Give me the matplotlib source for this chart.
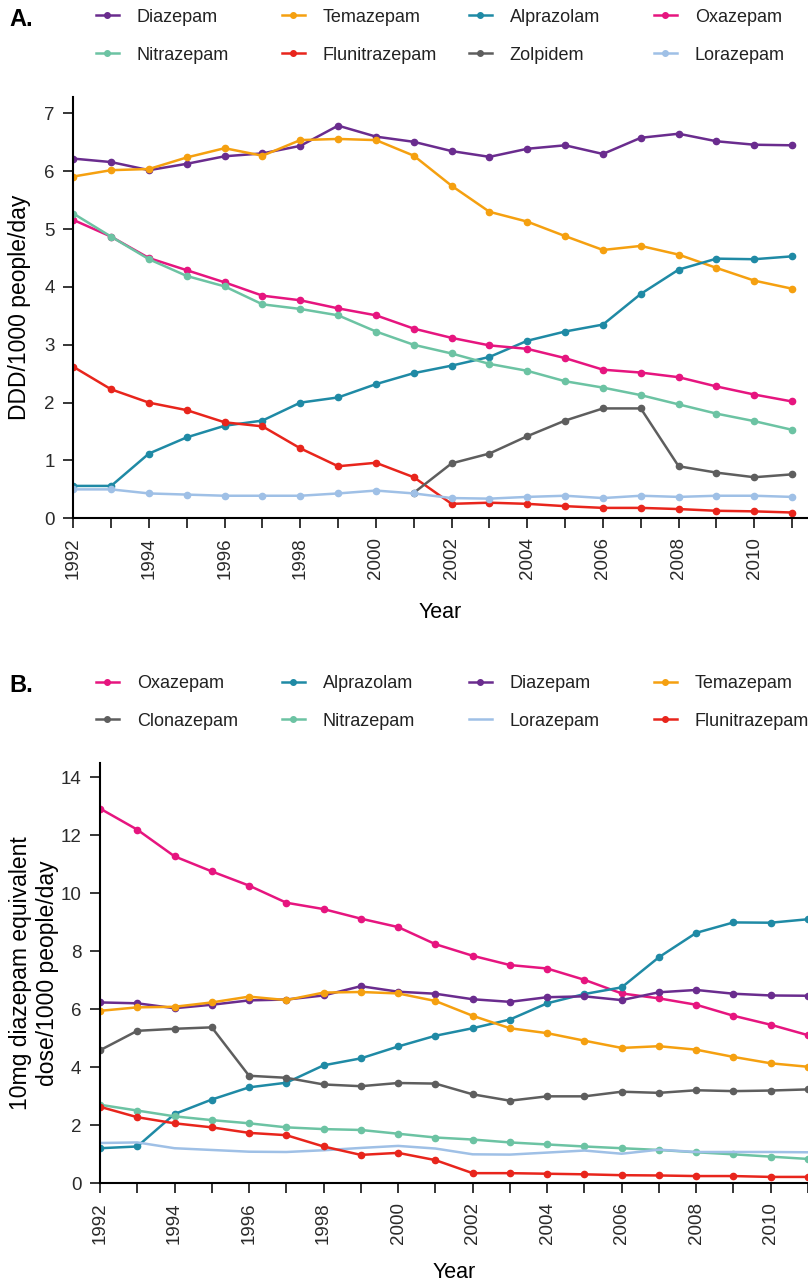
import numpy as np
import matplotlib
matplotlib.use('Agg')
import matplotlib.pyplot as plt
from matplotlib.lines import Line2D

plt.rcParams['font.family'] = ['Liberation Sans', 'DejaVu Sans']

years = list(range(1992, 2012))
nan = np.nan

# panel A: DDD/1000 people/day
a_diazepam = [6.22, 6.16, 6.02, 6.13, 6.26, 6.31, 6.44, 6.79, 6.60, 6.51, 6.35, 6.25, 6.39, 6.45, 6.30, 6.58, 6.65, 6.52, 6.46, 6.45]
a_temazepam = [5.91, 6.02, 6.04, 6.24, 6.40, 6.27, 6.54, 6.56, 6.54, 6.27, 5.75, 5.30, 5.13, 4.88, 4.64, 4.71, 4.56, 4.33, 4.11, 3.97]
a_alprazolam = [0.56, 0.56, 1.12, 1.40, 1.60, 1.69, 2.00, 2.09, 2.32, 2.51, 2.64, 2.79, 3.07, 3.23, 3.35, 3.88, 4.30, 4.49, 4.48, 4.53]
a_oxazepam = [5.16, 4.87, 4.50, 4.29, 4.08, 3.85, 3.77, 3.63, 3.51, 3.28, 3.12, 2.99, 2.93, 2.77, 2.57, 2.52, 2.44, 2.28, 2.14, 2.02]
a_nitrazepam = [5.27, 4.87, 4.48, 4.19, 4.01, 3.70, 3.62, 3.51, 3.23, 3.00, 2.85, 2.67, 2.55, 2.37, 2.26, 2.13, 1.97, 1.81, 1.68, 1.53]
a_flunitrazepam = [2.62, 2.23, 2.00, 1.87, 1.66, 1.59, 1.21, 0.90, 0.96, 0.71, 0.25, 0.27, 0.25, 0.21, 0.18, 0.18, 0.16, 0.13, 0.12, 0.10]
a_zolpidem = [nan, nan, nan, nan, nan, nan, nan, nan, nan, 0.44, 0.95, 1.12, 1.42, 1.69, 1.90, 1.90, 0.90, 0.79, 0.71, 0.76]
a_lorazepam = [0.50, 0.50, 0.43, 0.41, 0.39, 0.39, 0.39, 0.43, 0.48, 0.43, 0.35, 0.34, 0.37, 0.39, 0.35, 0.39, 0.37, 0.39, 0.39, 0.37]

# panel B: 10mg diazepam equivalent dose/1000 people/day
b_oxazepam = [12.93, 12.20, 11.28, 10.76, 10.27, 9.68, 9.46, 9.13, 8.84, 8.25, 7.85, 7.53, 7.41, 7.02, 6.55, 6.38, 6.16, 5.78, 5.47, 5.11]
b_alprazolam = [1.21, 1.27, 2.39, 2.89, 3.31, 3.47, 4.07, 4.31, 4.72, 5.09, 5.35, 5.65, 6.21, 6.53, 6.76, 7.80, 8.64, 9.00, 8.99, 9.11]
b_diazepam = [6.24, 6.21, 6.04, 6.16, 6.31, 6.34, 6.48, 6.80, 6.61, 6.54, 6.35, 6.26, 6.42, 6.45, 6.32, 6.59, 6.67, 6.54, 6.48, 6.47]
b_temazepam = [5.95, 6.07, 6.09, 6.24, 6.44, 6.32, 6.58, 6.60, 6.55, 6.29, 5.78, 5.35, 5.18, 4.92, 4.67, 4.73, 4.61, 4.36, 4.14, 4.02]
b_clonazepam = [4.59, 5.26, 5.33, 5.38, 3.71, 3.64, 3.41, 3.35, 3.46, 3.44, 3.07, 2.85, 3.00, 3.00, 3.16, 3.12, 3.21, 3.18, 3.20, 3.24]
b_nitrazepam = [2.71, 2.51, 2.31, 2.18, 2.07, 1.93, 1.87, 1.84, 1.71, 1.58, 1.51, 1.41, 1.34, 1.27, 1.21, 1.15, 1.07, 1.00, 0.92, 0.84]
b_lorazepam = [1.39, 1.41, 1.21, 1.15, 1.09, 1.08, 1.14, 1.22, 1.29, 1.20, 1.00, 0.99, 1.06, 1.13, 1.02, 1.16, 1.08, 1.08, 1.08, 1.07]
b_flunitrazepam = [2.64, 2.28, 2.07, 1.93, 1.74, 1.66, 1.27, 0.98, 1.05, 0.80, 0.35, 0.35, 0.33, 0.31, 0.28, 0.27, 0.25, 0.25, 0.22, 0.22]

colors = {
    'Diazepam': '#6a2c8e',
    'Temazepam': '#f5a010',
    'Alprazolam': '#1f8aa5',
    'Oxazepam': '#e6157f',
    'Nitrazepam': '#6cc3a3',
    'Flunitrazepam': '#e8251c',
    'Zolpidem': '#5e5e5e',
    'Clonazepam': '#5e5e5e',
    'Lorazepam': '#9fc0e6',
}

# legend order, row by row
a_series = [('Diazepam', a_diazepam), ('Temazepam', a_temazepam), ('Alprazolam', a_alprazolam),
            ('Oxazepam', a_oxazepam), ('Nitrazepam', a_nitrazepam), ('Flunitrazepam', a_flunitrazepam),
            ('Zolpidem', a_zolpidem), ('Lorazepam', a_lorazepam)]
b_series = [('Oxazepam', b_oxazepam), ('Alprazolam', b_alprazolam), ('Diazepam', b_diazepam),
            ('Temazepam', b_temazepam), ('Clonazepam', b_clonazepam), ('Nitrazepam', b_nitrazepam),
            ('Lorazepam', b_lorazepam), ('Flunitrazepam', b_flunitrazepam)]
no_markers = {'B': ['Lorazepam']}

W, H = 808, 1285
fig = plt.figure(figsize=(W / 100, H / 100), dpi=100)

ax_a = fig.add_axes([73.3 / W, 1 - 518.3 / H, (W - 73.3) / W, 421.0 / H])
ax_b = fig.add_axes([100.0 / W, 1 - 1183.3 / H, (W - 100.0) / W, 420.3 / H])


def style_axes(ax, ymax, yticks, xmax, label_y):
    for s in ['top', 'right']:
        ax.spines[s].set_visible(False)
    for s in ['left', 'bottom']:
        ax.spines[s].set_linewidth(1.5)
    ax.set_xlim(1992, xmax)
    ax.set_ylim(0, ymax)
    ax.set_xticks(years)
    ax.set_xticklabels([str(y) if y % 2 == 0 else '' for y in years], rotation=90)
    ax.set_yticks(yticks)
    ax.tick_params(axis='both', direction='out', length=7.5, width=1.1, pad=6,
                   labelsize=13.5, labelcolor='#2a2a2a')
    ax.set_xlabel('Year', fontsize=15.5)
    ax.xaxis.set_label_coords(0.5, label_y)
    ax.xaxis.label.set_va('top')


def draw(ax, series, panel):
    for name, vals in series:
        mk = None if name in no_markers.get(panel, []) else 'o'
        ax.plot(years, vals, color=colors[name], lw=1.8, marker=mk, ms=4.5,
                solid_joinstyle='round')


def legend_rows(series, panel, row_y):
    col_x = [96, 282, 469, 654]
    for i, (name, _) in enumerate(series):
        mk = None if name in no_markers.get(panel, []) else 'o'
        h = Line2D([], [], color=colors[name], lw=1.8, marker=mk, ms=4)
        x = col_x[i % 4]
        y = row_y[i // 4]
        fig.legend(handles=[h], labels=[name], loc='center left',
                   bbox_to_anchor=(x / W, 1 - y / H), frameon=False,
                   fontsize=13, handlelength=1.25, handletextpad=1.0,
                   borderpad=0, borderaxespad=0, labelcolor='#222222')


draw(ax_a, a_series, 'A')
style_axes(ax_a, 7.28, range(0, 8), 2011.42, -0.199)
ax_a.set_ylabel('DDD/1000 people/day', fontsize=16.5)
ax_a.yaxis.set_label_coords(-0.057, 0.5)

draw(ax_b, b_series, 'B')
style_axes(ax_b, 14.5, range(0, 15, 2), 2010.9, -0.188)
ax_b.set_ylabel('10mg diazepam equivalent\ndose/1000 people/day', fontsize=16.5,
                linespacing=1.2)
ax_b.yaxis.set_label_coords(-0.058, 0.5)

legend_rows(a_series, 'A', [17, 55])
legend_rows(b_series, 'B', [684, 721])

fig.text(9 / W, 1 - 19 / H, 'A.', fontsize=17, fontweight='bold', va='center', ha='left')
fig.text(9 / W, 1 - 685 / H, 'B.', fontsize=17, fontweight='bold', va='center', ha='left')

fig.savefig('out.png', dpi=100)
